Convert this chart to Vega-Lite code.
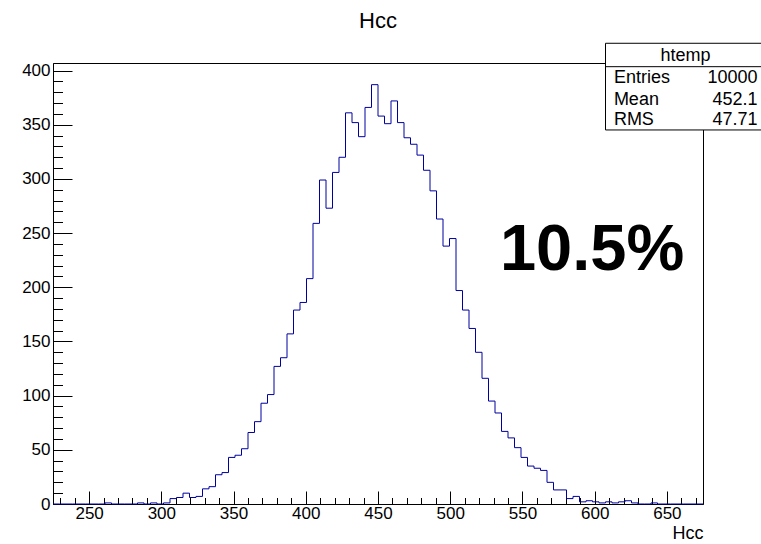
{
  "$schema": "https://vega.github.io/schema/vega-lite/v6.json",
  "width": 650,
  "height": 441,
  "autosize": {"type": "none"},
  "padding": {"left": 53, "top": 63, "right": 58, "bottom": 40},
  "background": "white",
  "config": {"view": {"stroke": "#000", "strokeWidth": 1}, "font": "Liberation Sans"},
  "title": {"text": "Hcc", "fontSize": 22, "fontWeight": "normal", "font": "Liberation Sans", "color": "#000", "anchor": "middle", "offset": 10},
  "resolve": {"axis": {"x": "independent", "y": "independent"}},
  "datasets": {
    "hist": [
      {"edge": 225, "entries": 0}, {"edge": 229.5, "entries": 0}, {"edge": 234, "entries": 0}, {"edge": 238.5, "entries": 0},
      {"edge": 243, "entries": 0}, {"edge": 247.5, "entries": 0}, {"edge": 252, "entries": 0}, {"edge": 256.5, "entries": 0},
      {"edge": 261, "entries": 1}, {"edge": 265.5, "entries": 0}, {"edge": 270, "entries": 0}, {"edge": 274.5, "entries": 0},
      {"edge": 279, "entries": 0}, {"edge": 283.5, "entries": 1}, {"edge": 288, "entries": 0}, {"edge": 292.5, "entries": 1},
      {"edge": 297, "entries": 0}, {"edge": 301.5, "entries": 1}, {"edge": 306, "entries": 5}, {"edge": 310.5, "entries": 6},
      {"edge": 315, "entries": 10}, {"edge": 319.5, "entries": 6}, {"edge": 324, "entries": 7}, {"edge": 328.5, "entries": 14},
      {"edge": 333, "entries": 16}, {"edge": 337.5, "entries": 27}, {"edge": 342, "entries": 29}, {"edge": 346.5, "entries": 43},
      {"edge": 351, "entries": 45}, {"edge": 355.5, "entries": 51}, {"edge": 360, "entries": 66}, {"edge": 364.5, "entries": 76},
      {"edge": 369, "entries": 93}, {"edge": 373.5, "entries": 101}, {"edge": 378, "entries": 127}, {"edge": 382.5, "entries": 135},
      {"edge": 387, "entries": 157}, {"edge": 391.5, "entries": 179}, {"edge": 396, "entries": 186}, {"edge": 400.5, "entries": 208},
      {"edge": 405, "entries": 259}, {"edge": 409.5, "entries": 299}, {"edge": 414, "entries": 273}, {"edge": 418.5, "entries": 306},
      {"edge": 423, "entries": 320}, {"edge": 427.5, "entries": 361}, {"edge": 432, "entries": 352}, {"edge": 436.5, "entries": 339},
      {"edge": 441, "entries": 366}, {"edge": 445.5, "entries": 387}, {"edge": 450, "entries": 358}, {"edge": 454.5, "entries": 351},
      {"edge": 459, "entries": 372}, {"edge": 463.5, "entries": 352}, {"edge": 468, "entries": 338}, {"edge": 472.5, "entries": 332},
      {"edge": 477, "entries": 322}, {"edge": 481.5, "entries": 308}, {"edge": 486, "entries": 289}, {"edge": 490.5, "entries": 263},
      {"edge": 495, "entries": 238}, {"edge": 499.5, "entries": 245}, {"edge": 504, "entries": 197}, {"edge": 508.5, "entries": 179},
      {"edge": 513, "entries": 162}, {"edge": 517.5, "entries": 140}, {"edge": 522, "entries": 116}, {"edge": 526.5, "entries": 95},
      {"edge": 531, "entries": 84}, {"edge": 535.5, "entries": 67}, {"edge": 540, "entries": 61}, {"edge": 544.5, "entries": 52},
      {"edge": 549, "entries": 43}, {"edge": 553.5, "entries": 35}, {"edge": 558, "entries": 33}, {"edge": 562.5, "entries": 31},
      {"edge": 567, "entries": 20}, {"edge": 571.5, "entries": 13}, {"edge": 576, "entries": 13}, {"edge": 580.5, "entries": 5},
      {"edge": 585, "entries": 7}, {"edge": 589.5, "entries": 2}, {"edge": 594, "entries": 3}, {"edge": 598.5, "entries": 2},
      {"edge": 603, "entries": 1}, {"edge": 607.5, "entries": 2}, {"edge": 612, "entries": 1}, {"edge": 616.5, "entries": 2},
      {"edge": 621, "entries": 3}, {"edge": 625.5, "entries": 1}, {"edge": 630, "entries": 0}, {"edge": 634.5, "entries": 0},
      {"edge": 639, "entries": 1}, {"edge": 643.5, "entries": 0}, {"edge": 648, "entries": 0}, {"edge": 652.5, "entries": 0},
      {"edge": 657, "entries": 0}, {"edge": 661.5, "entries": 0}, {"edge": 666, "entries": 0}, {"edge": 670.5, "entries": 0},
      {"edge": 675, "entries": 0}
    ],
    "stats": [
      {"stat": "Entries", "value": "10000"},
      {"stat": "Mean", "value": "452.1"},
      {"stat": "RMS", "value": "47.71"}
    ],
    "notes": [
      {"name": "htemp", "note": "10.5%"}
    ]
  },
  "layer": [
    {
      "data": {"name": "hist"},
      "mark": {"type": "line", "interpolate": "step-after", "color": "#0000a0", "strokeWidth": 1},
      "encoding": {
        "x": {
          "field": "edge", "type": "quantitative",
          "scale": {"domain": [225, 675], "nice": false, "zero": false},
          "axis": {
            "orient": "bottom",
            "title": "Hcc", "titleAnchor": "end", "titleFontSize": 18, "titleFontWeight": "normal", "titleFont": "Liberation Sans", "titleColor": "#000", "titlePadding": -3,
            "values": [230,240,250,260,270,280,290,300,310,320,330,340,350,360,370,380,390,400,410,420,430,440,450,460,470,480,490,500,510,520,530,540,550,560,570,580,590,600,610,620,630,640,650,660,670],
            "labelExpr": "datum.value % 50 === 0 ? datum.label : ''",
            "tickSize": {"condition": {"test": "datum.value % 50 === 0", "value": -13}, "value": -6.5},
            "labelPadding": 14, "labelFontSize": 17, "labelFont": "Liberation Sans", "labelColor": "#000",
            "tickColor": "#000", "domainColor": "#000", "grid": false, "labelOverlap": false, "labelFlush": false, "format": "d"
          }
        },
        "y": {
          "field": "entries", "type": "quantitative",
          "scale": {"domain": [0, 407], "nice": false},
          "axis": {
            "orient": "left",
            "title": null,
            "values": [0,10,20,30,40,50,60,70,80,90,100,110,120,130,140,150,160,170,180,190,200,210,220,230,240,250,260,270,280,290,300,310,320,330,340,350,360,370,380,390,400],
            "labelExpr": "datum.value % 50 === 0 ? datum.label : ''",
            "tickSize": {"condition": {"test": "datum.value % 50 === 0", "value": -19}, "value": -9.5},
            "labelPadding": 22, "labelFontSize": 17, "labelFont": "Liberation Sans", "labelColor": "#000",
            "tickColor": "#000", "domainColor": "#000", "grid": false, "labelOverlap": false, "labelFlush": false, "format": "d"
          }
        }
      }
    },
    {
      "data": {"name": "notes"},
      "mark": {"type": "rect", "fill": "white", "stroke": "#000", "strokeWidth": 1},
      "encoding": {
        "x": {"datum": 607.5, "type": "quantitative", "axis": null},
        "x2": {"datum": 719},
        "y": {"datum": 425.2, "type": "quantitative", "axis": null},
        "y2": {"datum": 345.2}
      }
    },
    {
      "data": {"name": "notes"},
      "mark": {"type": "rule", "stroke": "#000", "strokeWidth": 1},
      "encoding": {
        "x": {"datum": 607.5, "type": "quantitative", "axis": null},
        "x2": {"datum": 719},
        "y": {"datum": 403.6, "type": "quantitative", "axis": null}
      }
    },
    {
      "data": {"name": "notes"},
      "mark": {"type": "text", "align": "center", "baseline": "alphabetic", "fontSize": 18, "font": "Liberation Sans", "color": "#000"},
      "encoding": {
        "x": {"datum": 662.9, "type": "quantitative", "axis": null},
        "y": {"datum": 409.1, "type": "quantitative", "axis": null},
        "text": {"field": "name"}
      }
    },
    {
      "data": {"name": "notes"},
      "mark": {"type": "text", "align": "center", "baseline": "alphabetic", "fontSize": 65, "fontWeight": "bold", "font": "Liberation Sans", "color": "#000"},
      "encoding": {
        "x": {"datum": 598.2, "type": "quantitative", "axis": null},
        "y": {"datum": 216, "type": "quantitative", "axis": null},
        "text": {"field": "note"}
      }
    },
    {
      "data": {"name": "stats"},
      "transform": [{"filter": "datum.stat === 'Entries'"}],
      "layer": [
        {"mark": {"type": "text", "align": "left", "baseline": "alphabetic", "fontSize": 18, "font": "Liberation Sans", "color": "#000"},
         "encoding": {"x": {"datum": 613.3, "type": "quantitative", "axis": null}, "y": {"datum": 388.3, "type": "quantitative", "axis": null}, "text": {"field": "stat"}}},
        {"mark": {"type": "text", "align": "right", "baseline": "alphabetic", "fontSize": 18, "font": "Liberation Sans", "color": "#000"},
         "encoding": {"x": {"datum": 712.8, "type": "quantitative", "axis": null}, "y": {"datum": 388.3, "type": "quantitative", "axis": null}, "text": {"field": "value"}}}
      ]
    },
    {
      "data": {"name": "stats"},
      "transform": [{"filter": "datum.stat === 'Mean'"}],
      "layer": [
        {"mark": {"type": "text", "align": "left", "baseline": "alphabetic", "fontSize": 18, "font": "Liberation Sans", "color": "#000"},
         "encoding": {"x": {"datum": 613.3, "type": "quantitative", "axis": null}, "y": {"datum": 368.2, "type": "quantitative", "axis": null}, "text": {"field": "stat"}}},
        {"mark": {"type": "text", "align": "right", "baseline": "alphabetic", "fontSize": 18, "font": "Liberation Sans", "color": "#000"},
         "encoding": {"x": {"datum": 712.8, "type": "quantitative", "axis": null}, "y": {"datum": 368.2, "type": "quantitative", "axis": null}, "text": {"field": "value"}}}
      ]
    },
    {
      "data": {"name": "stats"},
      "transform": [{"filter": "datum.stat === 'RMS'"}],
      "layer": [
        {"mark": {"type": "text", "align": "left", "baseline": "alphabetic", "fontSize": 18, "font": "Liberation Sans", "color": "#000"},
         "encoding": {"x": {"datum": 613.3, "type": "quantitative", "axis": null}, "y": {"datum": 349.8, "type": "quantitative", "axis": null}, "text": {"field": "stat"}}},
        {"mark": {"type": "text", "align": "right", "baseline": "alphabetic", "fontSize": 18, "font": "Liberation Sans", "color": "#000"},
         "encoding": {"x": {"datum": 712.8, "type": "quantitative", "axis": null}, "y": {"datum": 349.8, "type": "quantitative", "axis": null}, "text": {"field": "value"}}}
      ]
    }
  ]
}
